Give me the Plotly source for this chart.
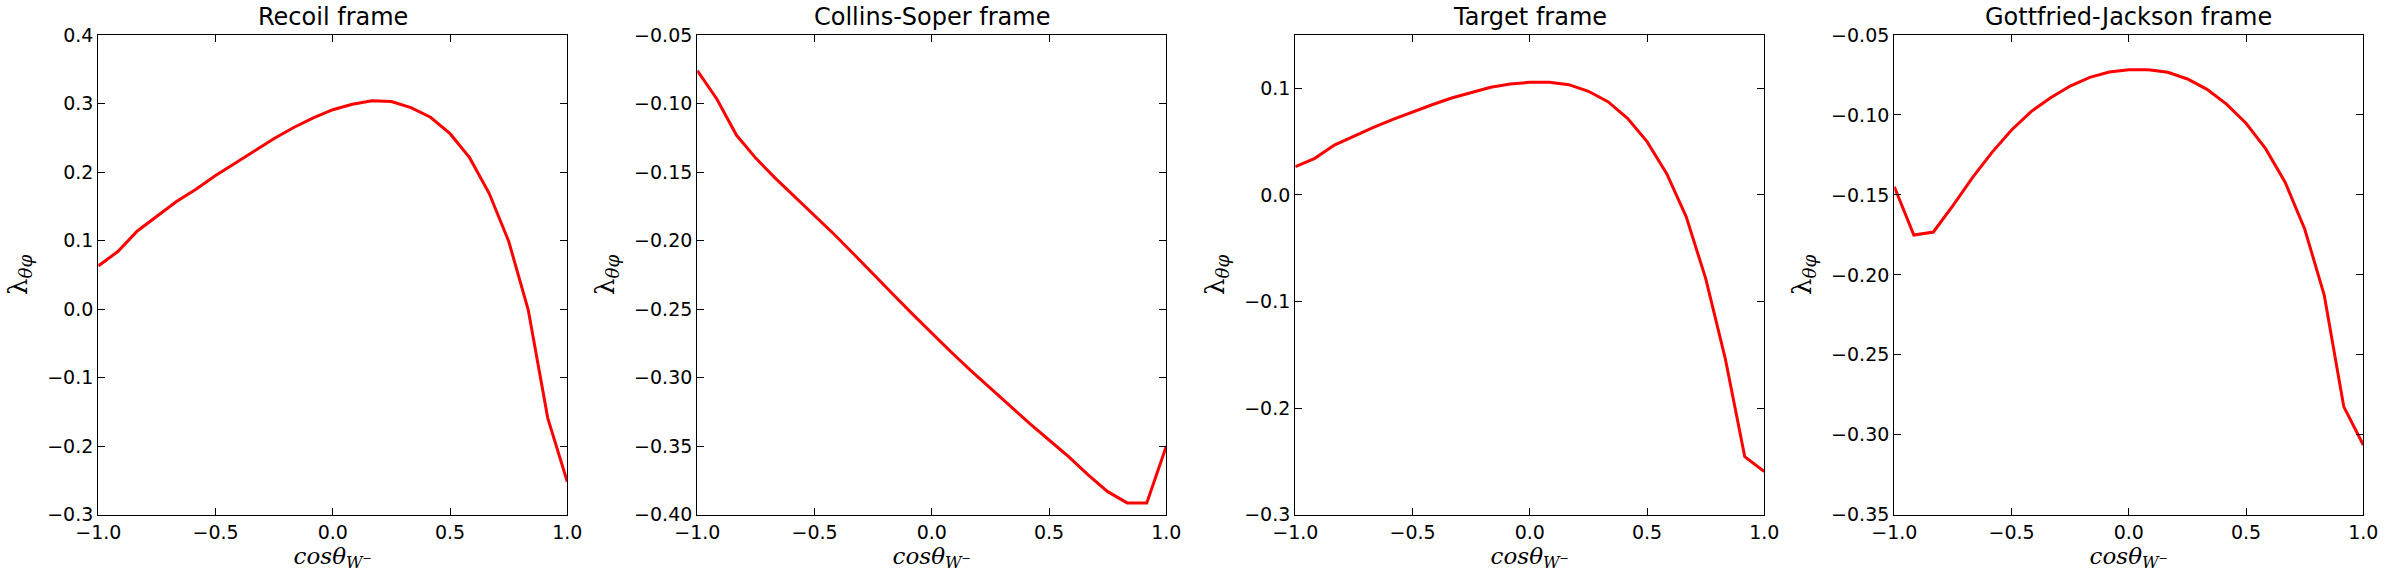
import plotly.graph_objects as go

cos_theta = [-1 + k / 12 for k in range(25)]

recoil = [0.063, 0.084, 0.114, 0.136, 0.157, 0.175, 0.195, 0.213, 0.231, 0.249,
          0.265, 0.279, 0.291, 0.299, 0.304, 0.303, 0.294, 0.280, 0.256, 0.221,
          0.169, 0.099, -0.001, -0.159, -0.252]

collins_soper = [-0.076, -0.0967, -0.123, -0.140, -0.1546, -0.168, -0.1816, -0.1954,
                 -0.2098, -0.2241, -0.239, -0.2535, -0.2677, -0.2815, -0.2949, -0.3078,
                 -0.3207, -0.3333, -0.3455, -0.3576, -0.371, -0.3832, -0.3914, -0.3914,
                 -0.350]

target = [0.0265, 0.0343, 0.0468, 0.0553, 0.0634, 0.0709, 0.0781, 0.0846, 0.0909,
          0.0962, 0.1009, 0.104, 0.1056, 0.1056, 0.1034, 0.0972, 0.0875, 0.0718,
          0.050, 0.0202, -0.0204, -0.0783, -0.1533, -0.2456, -0.2596]

gottfried_jackson = [-0.1449, -0.1751, -0.1732, -0.1567, -0.1392, -0.1234, -0.1094,
                     -0.0979, -0.0892, -0.0819, -0.0765, -0.0731, -0.0717, -0.0717,
                     -0.0733, -0.0775, -0.084, -0.0932, -0.1052, -0.1211, -0.1421,
                     -0.1713, -0.2126, -0.2824, -0.3064]

titles = ["Recoil frame", "Collins-Soper frame", "Target frame", "Gottfried-Jackson frame"]
series = [recoil, collins_soper, target, gottfried_jackson]
y_ranges = [(-0.3, 0.4), (-0.40, -0.05), (-0.3, 0.15), (-0.35, -0.05)]
y_dticks = [0.1, 0.05, 0.1, 0.05]
y_formats = [".1f", ".2f", ".1f", ".2f"]

W, H = 2386, 584
lefts = [98.3, 697.3, 1295.3, 1894.3]
pw = 469.0
top_px, bot_px = 35.0, 514.7

fig = go.Figure()
font_main = "DejaVu Sans, Verdana, sans-serif"
ylab = "λ<sub><i>θφ</i></sub>"
xlab = "<i>cosθ</i><sub><i>W</i><sup>−</sup></sub>"

for i in range(4):
    xa = "x" if i == 0 else f"x{i+1}"
    ya = "y" if i == 0 else f"y{i+1}"
    fig.add_trace(go.Scatter(x=cos_theta, y=series[i], mode="lines",
                             line=dict(color="#ff0000", width=3),
                             xaxis=xa, yaxis=ya, showlegend=False))
    d0 = lefts[i] / W
    d1 = (lefts[i] + pw) / W
    common = dict(showline=True, linecolor="black", linewidth=1.3, mirror="allticks",
                  ticks="inside", ticklen=7, tickwidth=1, tickcolor="black",
                  showgrid=False, zeroline=False, automargin=False,
                  tickfont=dict(family=font_main, size=19, color="black"))
    xkey = "xaxis" if i == 0 else f"xaxis{i+1}"
    ykey = "yaxis" if i == 0 else f"yaxis{i+1}"
    fig.update_layout(**{
        xkey: dict(domain=[d0, d1], range=[-1, 1], dtick=0.5, tick0=-1,
                   tickformat=".1f", anchor=ya,
                   title=dict(text=xlab, standoff=5,
                              font=dict(family="DejaVu Serif, serif", size=23, color="black")),
                   **common),
        ykey: dict(domain=[1 - bot_px / H, 1 - top_px / H], range=list(y_ranges[i]),
                   dtick=y_dticks[i], tick0=0, tickformat=y_formats[i], anchor=xa,
                   title=dict(text=ylab, standoff=12,
                              font=dict(family="DejaVu Serif, serif", size=26, color="black")),
                   **common),
    })
    fig.add_annotation(text=titles[i], xref="paper", yref="paper",
                       x=(d0 + d1) / 2, y=1 - 33 / H, xanchor="center", yanchor="bottom",
                       showarrow=False,
                       font=dict(family=font_main, size=24, color="black"))

fig.update_layout(width=W, height=H, margin=dict(l=0, r=0, t=0, b=0),
                  plot_bgcolor="white", paper_bgcolor="white")

fig.write_html("out.html")
